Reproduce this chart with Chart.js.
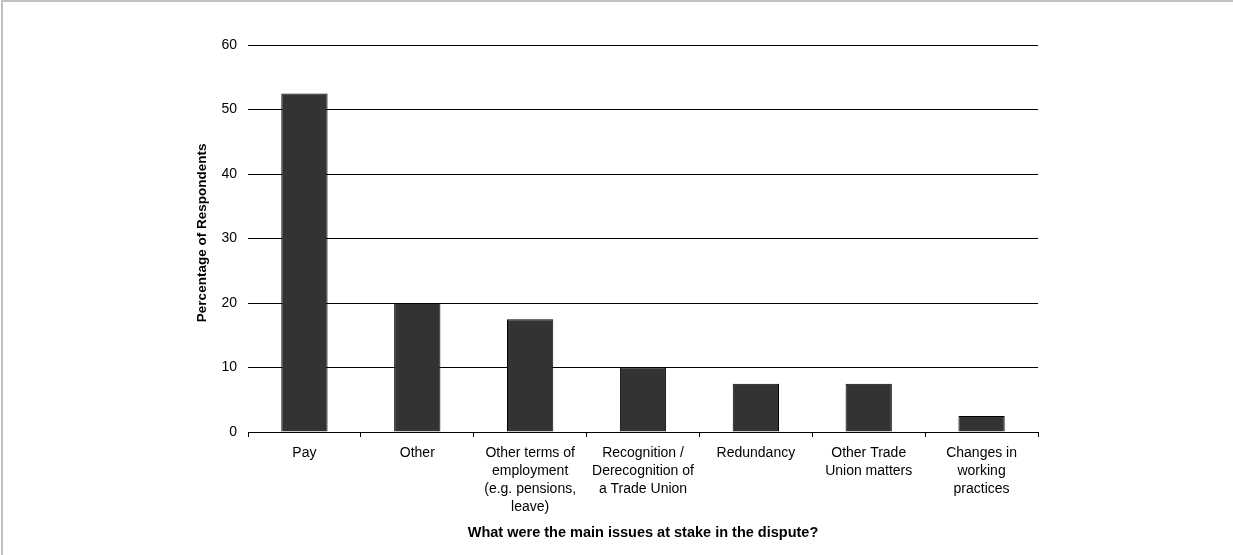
<!DOCTYPE html>
<html>
<head>
<meta charset="utf-8">
<title>Main issues at stake in the dispute</title>
<script src="https://cdn.jsdelivr.net/npm/chart.js@4.4.1/dist/chart.umd.min.js"></script>
<style>
  html, body { margin: 0; padding: 0; background: #ffffff; }
  #wrap { position: relative; width: 1233px; height: 555px; overflow: hidden; }
  #frame {
    position: absolute; left: 1px; top: 0; width: 1300px; height: 600px;
    border-top: 2px solid #c0c0c0; border-left: 2px solid #c0c0c0;
    box-sizing: border-box; pointer-events: none;
  }
  canvas { position: absolute; left: 0; top: 0; }
</style>
</head>
<body>
<div id="wrap">
  <canvas id="chart" width="1233" height="555"></canvas>
  <div id="frame"></div>
</div>
<script>
// Issues named by respondents (multi-line labels as drawn under the axis)
const categories = [
  ['Pay'],
  ['Other'],
  ['Other terms of', 'employment', '(e.g. pensions,', 'leave)'],
  ['Recognition /', 'Derecognition of', 'a Trade Union'],
  ['Redundancy'],
  ['Other Trade', 'Union matters'],
  ['Changes in', 'working', 'practices']
];

// Percentage of respondents citing each issue
const percentages = [52.5, 20, 17.5, 10, 7.5, 7.5, 2.5];

// Value axis ticks
const yTicks = [0, 10, 20, 30, 40, 50, 60];

// Leading spaces nudge the rotated title slightly above the axis centre
const yAxisTitle = '\u00a0\u00a0\u00a0Percentage of Respondents';
const xAxisTitle = 'What were the main issues at stake in the dispute?';

const FONT = "'Liberation Sans', Arial, Helvetica, sans-serif";

new Chart(document.getElementById('chart'), {
  type: 'bar',
  data: {
    labels: categories,
    datasets: [{
      data: percentages,
      backgroundColor: '#333333',
      borderColor: '#000000',
      borderWidth: 1,
      categoryPercentage: 1,
      barPercentage: 0.41
    }]
  },
  options: {
    responsive: false,
    animation: false,
    devicePixelRatio: 1,
    layout: { padding: { top: 45, right: 195, left: 0, bottom: 0 } },
    plugins: {
      legend: { display: false },
      tooltip: { enabled: false }
    },
    scales: {
      x: {
        grid: {
          display: true,
          offset: true,
          drawOnChartArea: false,
          drawTicks: true,
          tickLength: 5,
          color: '#000000',
          lineWidth: 1
        },
        border: { display: true, color: '#000000', width: 1 },
        ticks: {
          color: '#000000',
          padding: 7,
          maxRotation: 0,
          autoSkip: false,
          font: { family: FONT, size: 14, lineHeight: 1.286 }
        },
        title: {
          display: true,
          text: xAxisTitle,
          color: '#000000',
          font: { family: FONT, size: 14.5, weight: 'bold' },
          padding: { top: 0, bottom: 13 }
        },
        afterFit: (scale) => { scale.height = 123; }
      },
      y: {
        min: yTicks[0],
        max: yTicks[yTicks.length - 1],
        afterBuildTicks: (scale) => { scale.ticks = yTicks.map(v => ({ value: v })); },
        grid: {
          color: '#000000',
          lineWidth: 1,
          drawTicks: false
        },
        border: { display: false },
        ticks: {
          color: '#000000',
          padding: 11,
          font: { family: FONT, size: 14 }
        },
        title: {
          display: true,
          text: yAxisTitle,
          color: '#000000',
          font: { family: FONT, size: 13.5, weight: 'bold' },
          padding: { top: 194, bottom: 0 }
        },
        afterFit: (scale) => { scale.width = 248; }
      }
    }
  }
});
</script>
</body>
</html>
